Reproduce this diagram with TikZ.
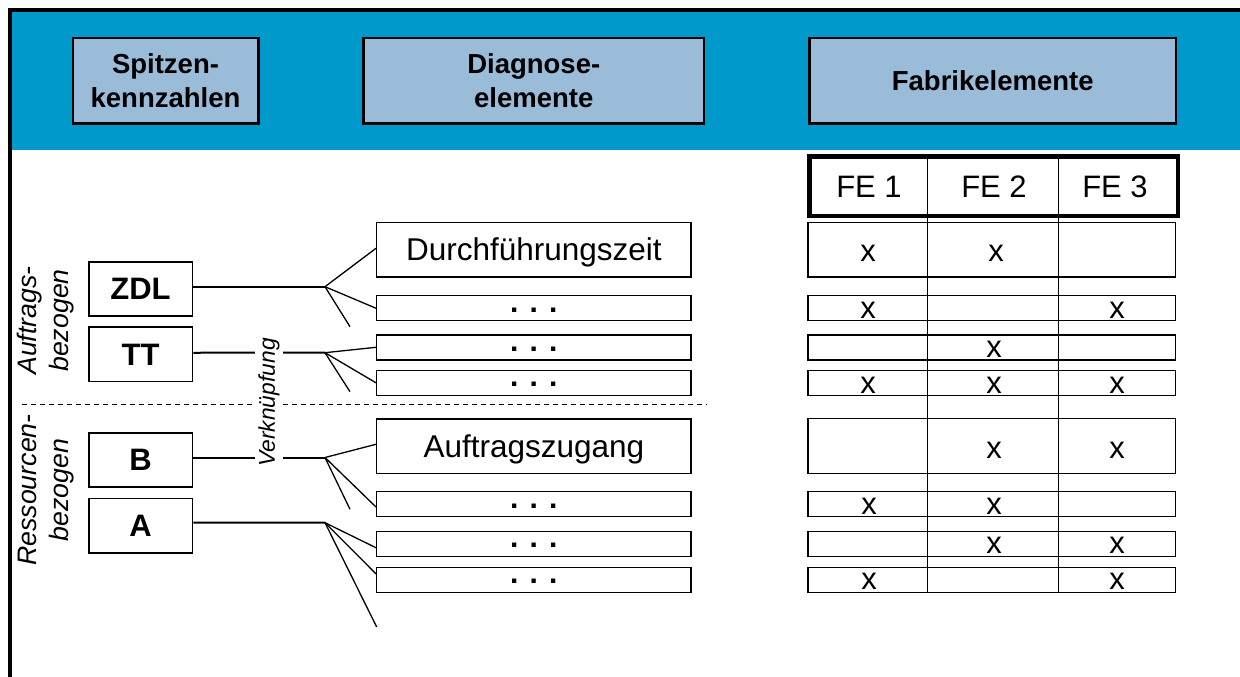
\documentclass[tikz,border=0pt]{standalone}
\usepackage{fontspec}
\setmainfont{Liberation Sans}
\definecolor{bandblue}{RGB}{0,153,204}
\definecolor{boxblue}{RGB}{155,188,216}
\begin{document}
\begin{tikzpicture}[x=1pt,y=-1pt,
  hdr/.style={draw=black, line width=2.2pt, fill=boxblue, align=center, inner sep=0pt,
    font=\fontsize{27.5}{34}\selectfont\bfseries},
  kpi/.style={draw=black, line width=1.8pt, fill=white, inner sep=0pt,
    minimum width=103.8pt, minimum height=54.2pt,
    font=\fontsize{31}{34}\selectfont\bfseries},
  diagbig/.style={draw=black, line width=1.4pt, inner sep=0pt,
    minimum width=314.3pt, minimum height=54.6pt, text height=22pt, text depth=0pt,
    font=\fontsize{31.5}{36}\selectfont},
  diagsmall/.style={draw=black, line width=1.4pt, inner sep=0pt,
    minimum width=314.3pt, minimum height=25pt, text height=8pt, text depth=0pt,
    font=\fontsize{30}{34}\selectfont\bfseries},
  rowbox/.style={draw=black, line width=1.4pt, inner sep=0pt, minimum width=367.3pt},
  xm/.style={anchor=base, inner sep=0pt, font=\fontsize{31}{34}\selectfont},
  fehead/.style={anchor=base, inner sep=0pt, font=\fontsize{31}{34}\selectfont},
  side/.style={rotate=90, align=center, inner sep=0pt,
    font=\fontsize{26.7}{32}\selectfont\itshape},
  trunk/.style={line width=2pt},
  fan/.style={line width=1.3pt},
]
\useasboundingbox (0,0) rectangle (1240,677);

% title band and frame
\fill[bandblue] (10,10) rectangle (1240,150);
\draw[line width=3.3pt] (10,677) -- (10,10) -- (1240,10);

% column headings
\node[hdr, minimum width=185.8pt, minimum height=85.2pt] (hkpi) at (165.5,80.8) {Spitzen-\\kennzahlen};
\node[hdr, minimum width=340.7pt, minimum height=85.2pt] (hdiag) at (533.75,80.8) {Diagnose-\\elemente};
\node[hdr, minimum width=366.7pt, minimum height=85.2pt] (hfab) at (992.75,80.8) {Fabrikelemente};

% key figures
\node[kpi] (zdl) at (140.5,288.7) {ZDL};
\node[kpi] (tt)  at (140.5,354.35) {TT};
\node[kpi] (bb)  at (140.5,460) {B};
\node[kpi] (aa)  at (140.5,525.65) {A};

% diagnostic elements
\node[diagbig]   (d1) at (533.85,249.7) {Durchführungszeit};
\node[diagsmall] (d2) at (533.85,308.25) {. . .};
\node[diagsmall] (d3) at (533.85,347.3) {. . .};
\node[diagsmall] (d4) at (533.85,382.8) {. . .};
\node[diagbig]   (d5) at (533.85,446.1) {Auftragszugang};
\node[diagsmall] (d6) at (533.85,504) {. . .};
\node[diagsmall] (d7) at (533.85,543.75) {. . .};
\node[diagsmall] (d8) at (533.85,579.85) {. . .};

% factory element table
\node[rowbox, minimum height=54.6pt] (t1) at (991.65,249.7) {};
\node[rowbox, minimum height=25pt] (t2) at (991.65,308.25) {};
\node[rowbox, minimum height=25pt] (t3) at (991.65,347.3) {};
\node[rowbox, minimum height=25pt] (t4) at (991.65,382.8) {};
\node[rowbox, minimum height=54.8pt] (t5) at (991.65,446.1) {};
\node[rowbox, minimum height=25pt] (t6) at (991.65,504) {};
\node[rowbox, minimum height=25pt] (t7) at (991.65,543.75) {};
\node[rowbox, minimum height=25pt] (t8) at (991.65,579.85) {};
\node[draw=black, line width=4.5pt, inner sep=0pt, minimum width=368.5pt, minimum height=59.5pt] (fe) at (993.5,186) {};
\coordinate (c1top) at (927.3,156);
\coordinate (c1bot) at (927.3,593);
\coordinate (c2top) at (1058.3,156);
\coordinate (c2bot) at (1058.3,593);
\draw[line width=1.4pt] (c1top) -- (c1bot);
\draw[line width=1.4pt] (c2top) -- (c2bot);
\node[fehead] (fe1) at (869,197.3) {FE 1};
\node[fehead] (fe2) at (994,197.3) {FE 2};
\node[fehead] (fe3) at (1115,197.3) {FE 3};

% marks
\node[xm] (x11) at (868,261.7) {x};
\node[xm] (x12) at (996,261.7) {x};
\node[xm] (x21) at (868,318.5) {x};
\node[xm] (x23) at (1117,318.5) {x};
\node[xm] (x32) at (994,357) {x};
\node[xm] (x41) at (868,393) {x};
\node[xm] (x42) at (994,393) {x};
\node[xm] (x43) at (1117,393) {x};
\node[xm] (x52) at (994,458) {x};
\node[xm] (x53) at (1117,458) {x};
\node[xm] (x61) at (869,514) {x};
\node[xm] (x62) at (994,514) {x};
\node[xm] (x72) at (994,553.5) {x};
\node[xm] (x73) at (1117,553.5) {x};
\node[xm] (x81) at (869,589.5) {x};
\node[xm] (x83) at (1117,589.5) {x};

% branching points and loose ends
\coordinate (fz) at (325,286.7);
\coordinate (ez) at (350,326.7);
\coordinate (ft) at (325,352.7);
\coordinate (et) at (350,391.7);
\coordinate (fb) at (325,457.5);
\coordinate (eb) at (350,509.3);
\coordinate (fa) at (325,522.7);
\coordinate (ea) at (376.7,627);

\draw[trunk] ([yshift=2pt]zdl.east) -- (fz);
\draw[trunk] ([yshift=1.6pt]tt.east) -- (ft);
\draw[trunk] ([yshift=2.5pt]bb.east) -- (fb);
\draw[trunk] ([yshift=3pt]aa.east) -- (fa);

\draw[fan] (fz) -- ([yshift=1.4pt]d1.west);
\draw[fan] (fz) -- (d2.west);
\draw[fan] (fz) -- (ez);
\draw[fan] (ft) -- (d3.west);
\draw[fan] (ft) -- (d4.west);
\draw[fan] (ft) -- (et);
\draw[fan] (fb) -- ([yshift=1.8pt]d5.west);
\draw[fan] (fb) -- ([yshift=-3pt]d6.west);
\draw[fan] (fb) -- (eb);
\draw[fan] (fa) -- ([yshift=-4pt]d7.west);
\draw[fan] (fa) -- ([yshift=6pt]d8.west);
\draw[fan] (fa) -- (ea);

% divider between order-related and resource-related figures
\coordinate (dl) at (21.7,404.3);
\coordinate (dr) at (706,404.3);
\draw[line width=1.3pt, dash pattern=on 5pt off 4pt] (dl) -- (dr);

% group labels
\node[side] (lauf) at (45.5,320.5) {Auftrags-\\bezogen};
\node[side] (lres) at (46,490) {Ressourcen-\\bezogen};
\node[rotate=90, fill=white, inner sep=3pt, font=\fontsize{22.8}{26}\selectfont\itshape] (verk) at (269,402.5) {Verknüpfung};
\end{tikzpicture}
\end{document}
